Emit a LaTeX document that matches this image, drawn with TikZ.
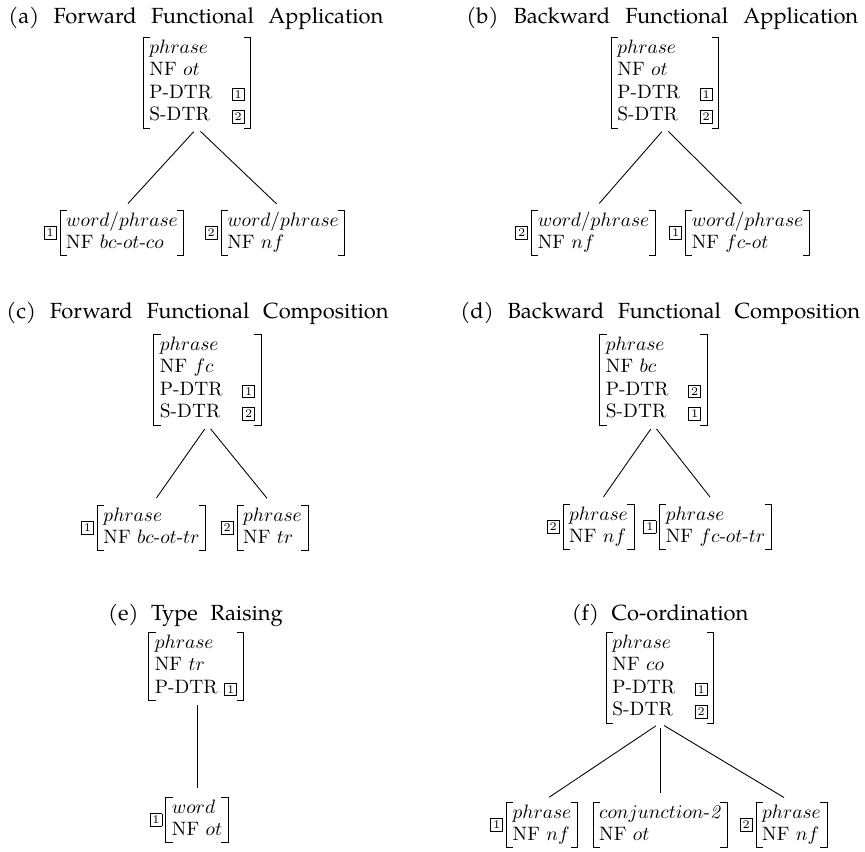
\documentclass[tikz,border=0pt]{standalone}
\usepackage{fontspec}
\newfontfamily\ttlfont{TeX Gyre Pagella}
% boxed structure-sharing tag
\newcommand\tg[1]{{\setlength{\fboxsep}{1.1pt}\setlength{\fboxrule}{0.4pt}\fbox{\fontsize{6}{6}\selectfont #1}}}
\renewcommand\arraystretch{0.97}
\tikzset{
  avmbr/.style={line width=0.5pt},
  avm/.style={inner xsep=3pt, inner ysep=0pt, anchor=north,
    append after command={\pgfextra{
      \draw[avmbr] ([xshift=3.5pt]\tikzlastnode.north west) -- (\tikzlastnode.north west)
        -- (\tikzlastnode.south west) -- ([xshift=3.5pt]\tikzlastnode.south west);
      \draw[avmbr] ([xshift=-3.5pt]\tikzlastnode.north east) -- (\tikzlastnode.north east)
        -- (\tikzlastnode.south east) -- ([xshift=-3.5pt]\tikzlastnode.south east);}}},
  tagn/.style={inner sep=0pt, anchor=east},
  ttl/.style={inner sep=0pt, font=\ttlfont\fontsize{11.3}{13}\selectfont},
  branch/.style={line width=0.45pt, shorten <=2.5pt, shorten >=4.5pt},
}
\begin{document}
\begin{tikzpicture}[x=0.5155pt, y=-0.5155pt]
\useasboundingbox (0,0) rectangle (865,851);

% ---------- (a) forward functional application
\node[ttl, anchor=base west] (ta) at (8,24) {\makebox[193.3pt][s]{(a) Forward Functional Application}};
\node[avm] (a0) at (197,37) {\begin{tabular}{@{}l@{\hspace{10pt}}l@{}}
  $phrase$\\ NF $ot$\\ P-DTR & \tg{1}\\ S-DTR & \tg{2}\end{tabular}};
\node[avm] (a1) at (122,210) {\begin{tabular}{@{}l@{}}$word/phrase$\\ NF $bc$-$ot$-$co$\end{tabular}};
\node[avm] (a2) at (283,210) {\begin{tabular}{@{}l@{}}$word/phrase$\\ NF $nf$\end{tabular}};
\node[tagn] (a1t) at ([xshift=-1.5pt]a1.west) {\tg{1}};
\node[tagn] (a2t) at ([xshift=-1.5pt]a2.west) {\tg{2}};
\draw[branch] (a0.south) -- (a1.north);
\draw[branch] (a0.south) -- (a2.north);

% ---------- (b) backward functional application
\node[ttl, anchor=base west] (tb) at (466,24) {\makebox[202pt][s]{(b) Backward Functional Application}};
\node[avm] (b0) at (665,37) {\begin{tabular}{@{}l@{\hspace{10pt}}l@{}}
  $phrase$\\ NF $ot$\\ P-DTR & \tg{1}\\ S-DTR & \tg{2}\end{tabular}};
\node[avm] (b1) at (593.5,210) {\begin{tabular}{@{}l@{}}$word/phrase$\\ NF $nf$\end{tabular}};
\node[avm] (b2) at (747.5,210) {\begin{tabular}{@{}l@{}}$word/phrase$\\ NF $fc$-$ot$\end{tabular}};
\node[tagn] (b1t) at ([xshift=-1.5pt]b1.west) {\tg{2}};
\node[tagn] (b2t) at ([xshift=-1.5pt]b2.west) {\tg{1}};
\draw[branch] (b0.south) -- (b1.north);
\draw[branch] (b0.south) -- (b2.north);

% ---------- (c) forward functional composition
\node[ttl, anchor=base west] (tc) at (6,318) {\makebox[197pt][s]{(c) Forward Functional Composition}};
\node[avm] (c0) at (207.5,334) {\begin{tabular}{@{}l@{\hspace{10pt}}l@{}}
  $phrase$\\ NF $fc$\\ P-DTR & \tg{1}\\ S-DTR & \tg{2}\end{tabular}};
\node[avm] (c1) at (151.5,505) {\begin{tabular}{@{}l@{}}$phrase$\\ NF $bc$-$ot$-$tr$\end{tabular}};
\node[avm] (c2) at (272.5,505) {\begin{tabular}{@{}l@{}}$phrase$\\ NF $tr$\end{tabular}};
\node[tagn] (c1t) at ([xshift=-1.5pt]c1.west) {\tg{1}};
\node[tagn] (c2t) at ([xshift=-1.5pt]c2.west) {\tg{2}};
\draw[branch] (c0.south) -- (c1.north);
\draw[branch] (c0.south) -- (c2.north);

% ---------- (d) backward functional composition
\node[ttl, anchor=base west] (td) at (460,318) {\makebox[206pt][s]{(d) Backward Functional Composition}};
\node[avm] (d0) at (653.5,334) {\begin{tabular}{@{}l@{\hspace{10pt}}l@{}}
  $phrase$\\ NF $bc$\\ P-DTR & \tg{2}\\ S-DTR & \tg{1}\end{tabular}};
\node[avm] (d1) at (598.5,504) {\begin{tabular}{@{}l@{}}$phrase$\\ NF $nf$\end{tabular}};
\node[avm] (d2) at (715.5,504) {\begin{tabular}{@{}l@{}}$phrase$\\ NF $fc$-$ot$-$tr$\end{tabular}};
\node[tagn] (d1t) at ([xshift=-1.5pt]d1.west) {\tg{2}};
\node[tagn] (d2t) at ([xshift=-1.5pt]d2.west) {\tg{1}};
\draw[branch] (d0.south) -- (d1.north);
\draw[branch] (d0.south) -- (d2.north);

% ---------- (e) type raising
\node[ttl, anchor=base] (te) at (195.5,620) {\makebox[90pt][s]{(e) Type Raising}};
\node[avm] (e0) at (196,632) {\begin{tabular}{@{}l@{}}
  $phrase$\\ NF $tr$\\ P-DTR \tg{1}\end{tabular}};
\node[avm] (e1) at (197,797) {\begin{tabular}{@{}l@{}}$word$\\ NF $ot$\end{tabular}};
\node[tagn] (e1t) at ([xshift=-1.5pt]e1.west) {\tg{1}};
\draw[branch] (e1.north |- e0.south) -- (e1.north);

% ---------- (f) co-ordination
\node[ttl, anchor=base] (tf) at (660,620) {\makebox[91pt][s]{(f) Co-ordination}};
\node[avm] (f0) at (660,632) {\begin{tabular}{@{}l@{\hspace{10pt}}l@{}}
  $phrase$\\ NF $co$\\ P-DTR & \tg{1}\\ S-DTR & \tg{2}\end{tabular}};
\node[avm] (f1) at (542,802) {\begin{tabular}{@{}l@{}}$phrase$\\ NF $nf$\end{tabular}};
\node[avm] (f2) at (660,802) {\begin{tabular}{@{}l@{}}$conjunction$-\textit{2}\\ NF $ot$\end{tabular}};
\node[avm] (f3) at (791.5,802) {\begin{tabular}{@{}l@{}}$phrase$\\ NF $nf$\end{tabular}};
\node[tagn] (f1t) at ([xshift=-1.5pt]f1.west) {\tg{1}};
\node[tagn] (f3t) at ([xshift=-1.5pt]f3.west) {\tg{2}};
\draw[branch] (f0.south) -- (f1.north);
\draw[branch] (f0.south) -- (f2.north);
\draw[branch] (f0.south) -- (f3.north);
\end{tikzpicture}
\end{document}
